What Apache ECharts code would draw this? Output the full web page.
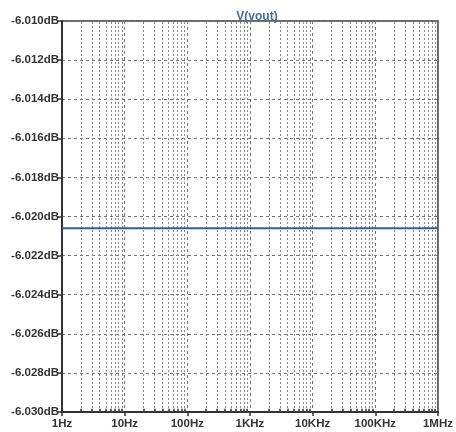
<!DOCTYPE html>
<html><head><meta charset="utf-8">
<script src="https://cdn.jsdelivr.net/npm/echarts@6/dist/echarts.min.js"></script>
<style>html,body{margin:0;padding:0;background:#fff}#c{width:456px;height:432px}</style>
</head><body><div id="c"></div>
<script>
const freqs = [1, 10, 100, 1000, 10000, 100000, 1000000];
const magDb = [-6.0206, -6.0206, -6.0206, -6.0206, -6.0206, -6.0206, -6.0206];
const xTickLabels = {1:'1Hz',10:'10Hz',100:'100Hz',1000:'1KHz',10000:'10KHz',100000:'100KHz',1000000:'1MHz'};
const decades = [1, 10, 100, 1000, 10000, 100000];
const minorSteps = [2, 3, 4, 5, 6, 7, 8, 9];
const yMin = -6.030, yMax = -6.010, yStep = 0.002;

const minorFreqs = [];
decades.forEach(d => minorSteps.forEach(k => minorFreqs.push(k * d)));

const chart = echarts.init(document.getElementById('c'), null, {renderer:'canvas'});
chart.setOption({
  animation: false,
  title: {text:'V(vout)', left: 252, top: 6, textAlign:'center',
    textStyle:{color:'#3d6eb4', fontSize:12, fontWeight:'bold', fontFamily:'Liberation Sans'}},
  grid: {left:62, right:15, top:21, bottom:20, show:true, borderColor:'#3a3a3a', borderWidth:1.5},
  xAxis: {
    type:'log', logBase:10, min:1, max:1000000,
    axisLine:{show:true, lineStyle:{color:'#333', width:2}},
    axisTick:{show:true, length:4, lineStyle:{color:'#333', width:1.5}},
    minorTick:{show:false},
    splitLine:{show:true, lineStyle:{color:'#777', type:[3,3], width:1}},
    axisLabel:{formatter: v => xTickLabels[Math.round(v)] || '', color:'#333', fontSize:11.5,
      fontWeight:'bold', fontFamily:'Liberation Sans', margin:6}
  },
  yAxis: {
    type:'value', min:yMin, max:yMax, interval:yStep,
    axisLine:{show:true, lineStyle:{color:'#333', width:2}},
    axisTick:{show:true, length:4, lineStyle:{color:'#333', width:1.5}},
    splitLine:{show:true, lineStyle:{color:'#777', type:[3,3], width:1}},
    axisLabel:{formatter: v => v.toFixed(3) + 'dB', color:'#333', fontSize:11.5,
      fontWeight:'bold', fontFamily:'Liberation Sans', margin:3}
  },
  series: [
    {type:'line', data: freqs.map((f,i)=>[f, magDb[i]]), showSymbol:false,
     lineStyle:{color:'#2e5da6', width:2}, z:5,
     markLine:{silent:true, symbol:'none', label:{show:false},
       lineStyle:{color:'#8a8a8a', type:[2,2], width:1},
       data: minorFreqs.map(f => ({xAxis:f}))}},
    {type:'line', data:[], markLine:{silent:true, symbol:'none', label:{show:false},
       lineStyle:{color:'#333', type:'solid', width:1.5},
       data: minorFreqs.map(f => [{coord:[f, yMin]}, {coord:[f, yMin + 0.00016]}])}}
  ]
});
</script></body></html>
